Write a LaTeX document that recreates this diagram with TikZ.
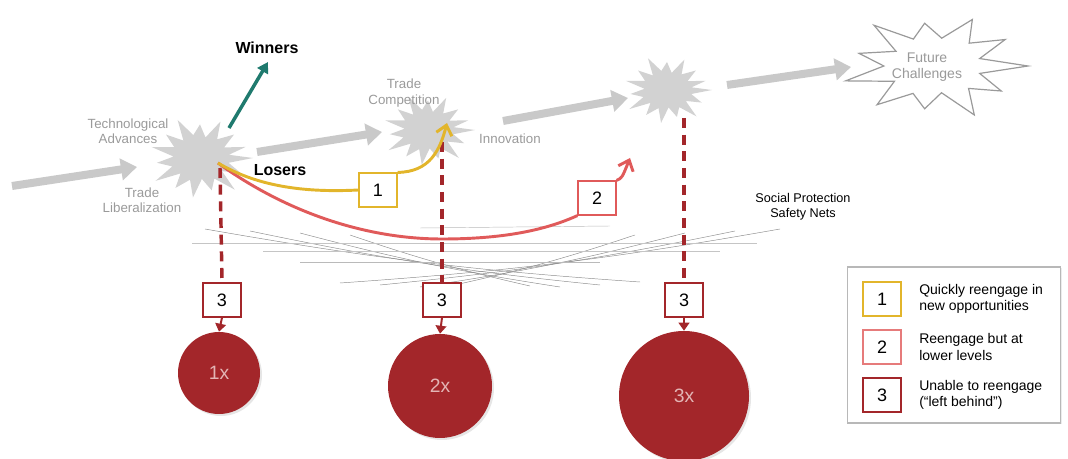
\documentclass[tikz,border=0pt]{standalone}
\usepackage{fontspec}
\setmainfont{Liberation Sans}
\usetikzlibrary{arrows.meta,shadows}
\definecolor{arrowgray}{HTML}{C9C9C9}
\definecolor{starfill}{HTML}{D2D2D2}
\definecolor{lblgray}{HTML}{9A9A9A}
\definecolor{teal1}{HTML}{1F7A6E}
\definecolor{gold1}{HTML}{E2B52B}
\definecolor{red1}{HTML}{E05A5A}
\definecolor{dred}{HTML}{A3262A}
\definecolor{circtxt}{HTML}{E3B5B5}
\definecolor{netgray}{HTML}{8C8C8C}
\begin{document}
\begin{tikzpicture}[x=0.75pt,y=-0.75pt,
  burst/.pic={\path[pic actions] (0:1) -- (12:0.55) -- (25:0.85) -- (37:0.52) -- (49:1) -- (61:0.56) -- (74:0.8) -- (86:0.5) -- (98:0.95) -- (110:0.55) -- (123:0.85) -- (135:0.52) -- (147:1) -- (159:0.56) -- (172:0.82) -- (184:0.5) -- (196:0.95) -- (208:0.55) -- (221:0.85) -- (233:0.52) -- (245:1) -- (257:0.56) -- (270:0.8) -- (282:0.5) -- (294:0.95) -- (306:0.55) -- (319:0.85) -- (331:0.52) -- (343:0.9) -- (352:0.55) -- cycle;},
  fburst/.pic={\path[pic actions] (0:1) -- (16:0.5) -- (33:0.85) -- (49:0.55) -- (65:1) -- (82:0.5) -- (98:0.8) -- (115:0.56) -- (131:0.95) -- (147:0.52) -- (164:1) -- (180:0.55) -- (196:0.85) -- (213:0.5) -- (229:1) -- (245:0.55) -- (262:0.8) -- (278:0.52) -- (295:0.95) -- (311:0.56) -- (327:0.9) -- (344:0.5) -- cycle;},
  bigarrow/.style={draw=arrowgray, line width=6pt, -{Triangle[length=12pt,width=16pt]}},
  lbl/.style={text=lblgray, font=\fontsize{10}{11.5}\selectfont, align=center, inner sep=0pt},
  bold/.style={font=\fontsize{12}{14}\selectfont\bfseries, inner sep=0pt},
  numbox/.style={draw, fill=white, line width=1.4pt, minimum width=28pt, minimum height=25pt, inner sep=0pt, font=\fontsize{13.5}{14}\selectfont, drop shadow={opacity=0.2,shadow xshift=1pt,shadow yshift=-1pt}},
  dropline/.style={draw=dred, line width=2.6pt, dash pattern=on 7.5pt off 5pt},
  droptip/.style={draw=dred, line width=1.5pt, -{Triangle[length=6pt,width=8pt]}},
  bigcirc/.style={circle, fill=dred, text=circtxt, inner sep=0pt, font=\fontsize{14.5}{16}\selectfont, drop shadow={opacity=0.2,shadow xshift=1.5pt,shadow yshift=-1.5pt}},
  net/.style={draw=netgray, line width=0.35pt},
  legtxt/.style={anchor=west, align=left, font=\fontsize{10.5}{12.2}\selectfont, inner sep=0pt}
]
\useasboundingbox (0,0) rectangle (1068,459);

% coordinates
\coordinate (s1) at (200,158);
\coordinate (s2) at (428,130);
\coordinate (s3) at (667,90);
\coordinate (fc) at (935,66);
\coordinate (a1s) at (12,186); \coordinate (a1e) at (137,167);
\coordinate (a2s) at (257,152); \coordinate (a2e) at (382,132);
\coordinate (a3s) at (503,121); \coordinate (a3e) at (628,98);
\coordinate (a4s) at (727,85); \coordinate (a4e) at (851,67);
\coordinate (ls) at (218,163);
\coordinate (ws) at (229,128); \coordinate (we) at (268,62);
\coordinate (yt) at (447,123);
\coordinate (rt) at (630,158);
\coordinate (d1) at (220,168);
\coordinate (d2) at (442,142);
\coordinate (d3) at (684,118);

% safety net
\draw[net] (205,229) to[bend right=3] (640,282);
\draw[net] (250,231) to[bend right=3] (600,285);
\draw[net] (300,233) to[bend right=3] (560,287);
\draw[net] (350,235) to[bend right=3] (530,286);
\draw[net] (780,229) to[bend left=3] (340,283);
\draw[net] (735,231) to[bend left=3] (380,285);
\draw[net] (685,233) to[bend left=3] (420,287);
\draw[net] (635,235) to[bend left=3] (450,286);
\draw[net, draw=netgray!50] (192,243) -- (757,243);
\draw[net, draw=netgray!50] (263,251) -- (720,251);
\draw[net, draw=netgray!60] (420,228) -- (610,226);
\draw[net, draw=netgray!60] (300,262) -- (600,262);

% gray arrows
\draw[bigarrow] (a1s) -- (a1e);
\draw[bigarrow] (a2s) -- (a2e);
\draw[bigarrow] (a3s) -- (a3e);
\draw[bigarrow] (a4s) -- (a4e);

% starbursts
\pic[fill=starfill, xscale=53, yscale=42] at (s1) {burst};
\pic[fill=starfill, xscale=47, yscale=37] at (s2) {burst};
\pic[fill=starfill, xscale=45, yscale=35] at (s3) {burst};
\pic[draw=lblgray, fill=white, line width=0.9pt, xscale=93, yscale=54] at (fc) {fburst};

% labels
\node[lbl] (tech) at (128,131) {Technological\\Advances};
\node[lbl] (tlib) at (142,200) {Trade\\Liberalization};
\node[lbl] (tcomp) at (404,93) {Trade\\Competition};
\node[lbl] (innov) at (510,139) {Innovation};
\node[lbl, font=\fontsize{10.5}{12}\selectfont] (fut) at (927,67) {Future\\Challenges};
\node[bold] (win) at (267,48) {Winners};
\node[bold] (los) at (280,170) {Losers};
\node[align=center, inner sep=0pt, font=\fontsize{9.5}{11}\selectfont] (snet) at (803,207) {Social Protection\\Safety Nets};

% winners arrow
\draw[teal1, line width=2.6pt, -{Triangle[length=8pt,width=9pt]}] (ws) -- (we);

% dashed drop lines
\node[numbox, draw=dred] (b3a) at (222,300) {3};
\node[numbox, draw=dred] (b3b) at (442,300) {3};
\node[numbox, draw=dred] (b3c) at (684,300) {3};
\draw[dropline] (d1) -- (b3a.north);
\draw[dropline] (d2) -- (b3b.north);
\draw[dropline] (d3) -- (b3c.north);

% loser paths
\node[numbox, draw=gold1] (b1) at (378,190) {1};
\node[numbox, draw=red1] (b2) at (597,198) {2};
\draw[red1, line width=2.2pt] (ls) .. controls (290,215) and (370,239) .. (442,239) .. controls (510,239) and (550,228) .. (b2.south west);
\draw[red1, line width=2.2pt, -{Straight Barb[length=7pt,width=12pt]}] (b2.north east) .. controls (622,178) .. (rt);
\draw[gold1, line width=2.2pt] (ls) .. controls (255,185) and (300,193) .. (b1.west);
\draw[gold1, line width=2.2pt, -{Straight Barb[length=7pt,width=12pt]}] (b1.north east) .. controls (430,172) and (440,150) .. (yt);
\node[numbox, draw=gold1] at (b1) {1};
\node[numbox, draw=red1] at (b2) {2};

% circles
\node[bigcirc, minimum size=61.5pt] (c1) at (219,373) {1x};
\node[bigcirc, minimum size=78pt] (c2) at (440,386) {2x};
\node[bigcirc, minimum size=97.5pt] (c3) at (684,396) {3x};
\draw[droptip] (b3a.south) -- (c1.north);
\draw[droptip] (b3b.south) -- (c2.north);
\draw[droptip] (b3c.south) -- (c3.north);

% legend
\node[draw=lblgray!70, line width=0.8pt, fill=white, minimum width=160pt, minimum height=117pt, inner sep=0pt, drop shadow={opacity=0.15,shadow xshift=1pt,shadow yshift=-1pt}] (leg) at (954,345) {};
\node[numbox, draw=gold1] (l1) at (882,299) {1};
\node[numbox, draw=red1!80] (l2) at (882,347) {2};
\node[numbox, draw=dred] (l3) at (882,395) {3};
\node[legtxt] (t1) at (919,299) {Quickly reengage in\\new opportunities};
\node[legtxt] (t2) at (919,347) {Reengage but at\\lower levels};
\node[legtxt] (t3) at (919,395) {Unable to reengage\\(“left behind”)};
\end{tikzpicture}
\end{document}
